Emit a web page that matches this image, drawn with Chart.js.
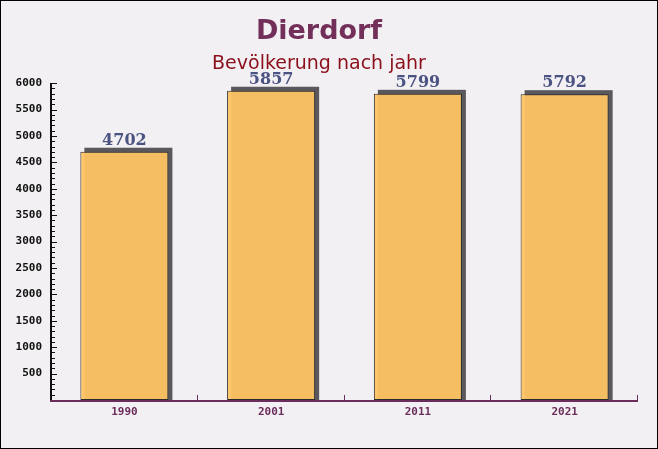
<!DOCTYPE html>
<html lang="de">
<head>
  <meta charset="UTF-8">
  <title>Dierdorf</title>
  <script src="https://cdn.jsdelivr.net/npm/chart.js"></script>
  <style>
    html, body { margin: 0; padding: 0; background: #f3f0f3; }
    #wrap { width: 658px; height: 449px; }
  </style>
</head>
<body>
  <div id="wrap"><canvas id="popChart" width="658" height="449"></canvas></div>

  <script>
    const years = ['1990', '2001', '2011', '2021'];
    const population = [4702, 5857, 5799, 5792];
    const yTicks = [500, 1000, 1500, 2000, 2500, 3000, 3500, 4000, 4500, 5000, 5500, 6000];

    const AXIS_LEFT = 51;

    const decor = {
      id: 'decor',
      beforeDraw(chart) {
        const ctx = chart.ctx;
        ctx.save();
        ctx.fillStyle = '#f3f0f3';
        ctx.fillRect(0, 0, chart.width, chart.height);
        ctx.restore();
      },
      beforeDatasetsDraw(chart) {
        // dunkler Schatten hinter den Balken
        const ctx = chart.ctx;
        const meta = chart.getDatasetMeta(0);
        ctx.save();
        ctx.fillStyle = '#5a585c';
        meta.data.forEach(bar => {
          const w = bar.width;
          ctx.fillRect(bar.x - w / 2 + 4, bar.y - 4, w, bar.base - bar.y + 4);
        });
        ctx.restore();
      },
      afterDatasetsDraw(chart) {
        const ctx = chart.ctx;
        const meta = chart.getDatasetMeta(0);
        const area = chart.chartArea;
        const y = chart.scales.y;
        const x = chart.scales.x;
        ctx.save();

        // Werte über den Balken
        ctx.font = 'bold 16px "DejaVu Serif"';
        ctx.fillStyle = '#4b5382';
        ctx.textAlign = 'center';
        ctx.textBaseline = 'middle';
        meta.data.forEach((bar, i) => {
          ctx.fillText(String(population[i]), bar.x, bar.y - 11);
        });

        // y-Achse mit Teilstrichen
        const ax = Math.round(area.left) - 1;
        ctx.fillStyle = '#111';
        ctx.fillRect(ax, Math.round(area.top), 2, Math.round(area.bottom - area.top) + 1);
        for (let v = 100; v <= 6000; v += 100) {
          const py = Math.round(y.getPixelForValue(v));
          const len = v % 500 === 0 ? 5 : 3;
          ctx.fillRect(ax, py, len + 2, 1);
        }

        // x-Achse
        ctx.fillStyle = '#6b2d5b';
        ctx.fillRect(ax, Math.round(area.bottom), Math.round(area.right - ax), 2);
        const step = x.getPixelForValue(1) - x.getPixelForValue(0);
        for (let i = 0; i < years.length; i++) {
          const px = Math.round(x.getPixelForValue(i) + step / 2) - 1;
          ctx.fillRect(px, Math.round(area.bottom) - 5, 1, 5);
        }

        // Rahmen
        ctx.strokeStyle = '#000';
        ctx.lineWidth = 1;
        ctx.strokeRect(0.5, 0.5, chart.width - 1, chart.height - 1);
        ctx.restore();
      }
    };

    new Chart(document.getElementById('popChart'), {
      type: 'bar',
      data: {
        labels: years,
        datasets: [{
          data: population,
          backgroundColor: 'rgba(255, 196, 98, 0.95)',
          borderColor: '#2a2a2a',
          borderWidth: 1,
          borderSkipped: false,
          categoryPercentage: 1,
          barPercentage: 0.6
        }]
      },
      options: {
        responsive: false,
        animation: false,
        layout: { padding: { left: 0, right: 20, top: 0, bottom: 0 } },
        plugins: {
          legend: { display: false },
          tooltip: { enabled: false },
          title: {
            display: true,
            text: 'Dierdorf',
            color: '#722f5a',
            font: { family: '"DejaVu Sans"', size: 27, weight: 'bold' },
            padding: { top: 16, bottom: 4 }
          },
          subtitle: {
            display: true,
            text: 'Bevölkerung nach jahr',
            color: '#8b0f1a',
            font: { family: '"DejaVu Sans"', size: 19 },
            padding: { top: 0, bottom: 8 }
          }
        },
        scales: {
          x: {
            grid: { display: false, drawTicks: false },
            border: { display: false },
            ticks: {
              color: '#6b2d5b',
              font: { family: '"DejaVu Sans Mono"', size: 11, weight: 'bold' },
              padding: 6
            },
            afterFit(scale) { scale.height = 49; }
          },
          y: {
            min: 0,
            max: 6000,
            grid: { display: false, drawTicks: false },
            border: { display: false },
            afterBuildTicks(scale) {
              scale.ticks = yTicks.map(v => ({ value: v }));
            },
            ticks: {
              color: '#111',
              font: { family: '"DejaVu Sans Mono"', size: 11, weight: 'bold' },
              padding: 9,
              callback: v => String(v)
            },
            afterFit(scale) { scale.width = AXIS_LEFT; }
          }
        }
      },
      plugins: [decor]
    });
  </script>
</body>
</html>
